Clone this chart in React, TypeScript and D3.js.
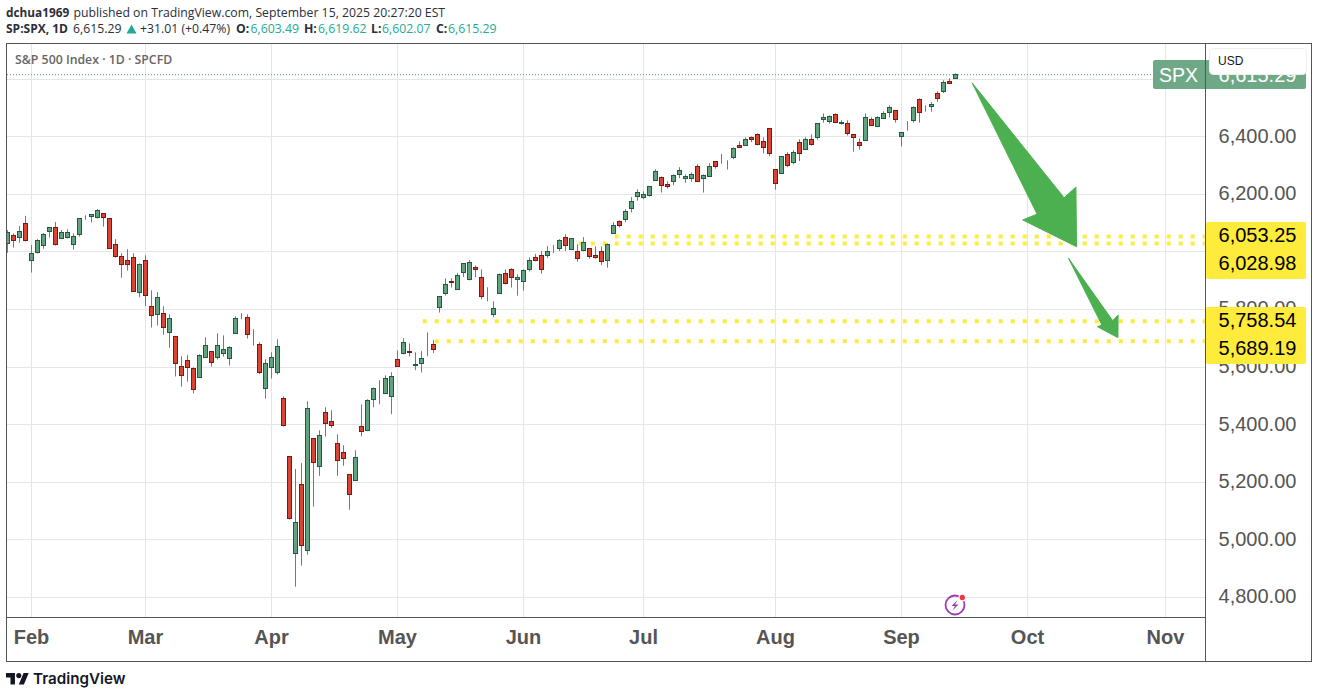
import * as d3 from "d3";

const width = 1318;
const height = 698;

// daily candles, Jan 28 to Sep 15 2025
const opens = [
  6028, 6058, 6051, 6098, 5971, 5999, 6023, 6072, 6086, 6047,
  6051, 6026, 6061, 6117, 6124, 6120, 6134, 6117, 6026, 5985,
  5971, 5981, 5859, 5971, 5811, 5783, 5787, 5721, 5707, 5602,
  5623, 5596, 5564, 5634, 5655, 5634, 5648, 5630, 5717, 5775,
  5773, 5697, 5679, 5526, 5599, 5582, 5491, 5290, 4951, 5192,
  4962, 5352, 5254, 5443, 5411, 5335, 5304, 5227, 5206, 5394,
  5380, 5488, 5530, 5509, 5498, 5627, 5648, 5655, 5605, 5613,
  5663, 5679, 5806, 5856, 5897, 5870, 5929, 5905, 5946, 5912,
  5841, 5783, 5856, 5925, 5939, 5905, 5898, 5939, 5981, 5988,
  5988, 6004, 6012, 6051, 6009, 6002, 6005, 6012, 5988, 6002,
  5971, 6064, 6106, 6113, 6151, 6193, 6188, 6195, 6249, 6259,
  6235, 6245, 6268, 6255, 6255, 6297, 6255, 6262, 6315, 6306,
  6309, 6329, 6370, 6370, 6398, 6408, 6384, 6429, 6287, 6273,
  6339, 6311, 6381, 6356, 6391, 6397, 6461, 6452, 6478, 6447,
  6447, 6408, 6381, 6388, 6460, 6435, 6463, 6485, 6492, 6401,
  6449, 6456, 6530, 6499, 6506, 6551, 6558, 6592, 6603,
];
const highs = [
  6076, 6064, 6090, 6125, 6024, 6044, 6065, 6086, 6104, 6076,
  6078, 6064, 6117, 6127, 6130, 6149, 6134, 6117, 6044, 5995,
  6009, 5995, 5960, 5988, 5866, 5860, 5811, 5783, 5707, 5637,
  5641, 5599, 5644, 5703, 5655, 5717, 5710, 5672, 5776, 5787,
  5783, 5731, 5686, 5627, 5651, 5696, 5498, 5290, 5246, 5266,
  5481, 5352, 5380, 5460, 5450, 5366, 5328, 5227, 5311, 5470,
  5488, 5529, 5554, 5571, 5582, 5658, 5700, 5682, 5651, 5655,
  5720, 5693, 5846, 5908, 5908, 5927, 5960, 5972, 5953, 5939,
  5877, 5828, 5925, 5939, 5943, 5922, 5939, 5981, 5993, 6003,
  6020, 6024, 6044, 6061, 6047, 6026, 6051, 6012, 6019, 6019,
  6029, 6103, 6110, 6148, 6190, 6217, 6210, 6228, 6287, 6262,
  6245, 6269, 6294, 6269, 6276, 6304, 6269, 6308, 6315, 6340,
  6318, 6363, 6384, 6398, 6401, 6412, 6398, 6429, 6287, 6332,
  6346, 6353, 6391, 6398, 6408, 6447, 6481, 6474, 6481, 6457,
  6457, 6408, 6394, 6481, 6467, 6471, 6488, 6509, 6492, 6415,
  6454, 6506, 6533, 6509, 6520, 6558, 6596, 6603, 6620,
];
const lows = [
  5997, 6015, 6032, 6036, 5928, 5994, 6011, 6050, 6022, 6044,
  6046, 6008, 6053, 6112, 6102, 6116, 6088, 6013, 5980, 5910,
  5935, 5863, 5842, 5812, 5737, 5744, 5712, 5667, 5567, 5532,
  5549, 5508, 5564, 5634, 5601, 5626, 5636, 5605, 5717, 5766,
  5699, 5674, 5575, 5490, 5560, 5574, 5393, 5070, 4837, 4910,
  4948, 5115, 5222, 5358, 5389, 5222, 5257, 5104, 5206, 5359,
  5377, 5460, 5470, 5509, 5436, 5602, 5644, 5637, 5589, 5581,
  5637, 5648, 5789, 5848, 5876, 5870, 5912, 5901, 5912, 5835,
  5828, 5773, 5856, 5887, 5876, 5848, 5865, 5932, 5967, 5924,
  5979, 5996, 6003, 6003, 6009, 5966, 6002, 5976, 5976, 5954,
  5945, 6064, 6085, 6103, 6137, 6178, 6183, 6192, 6249, 6206,
  6220, 6231, 6256, 6240, 6243, 6245, 6206, 6262, 6289, 6306,
  6286, 6322, 6363, 6370, 6381, 6370, 6342, 6332, 6216, 6273,
  6294, 6304, 6315, 6356, 6369, 6390, 6449, 6445, 6450, 6442,
  6404, 6348, 6355, 6388, 6440, 6433, 6463, 6467, 6449, 6366,
  6421, 6449, 6449, 6487, 6487, 6521, 6551, 6586, 6602,
];
const closes = [
  6068, 6040, 6072, 6039, 5995, 6040, 6061, 6086, 6026, 6068,
  6068, 6054, 6117, 6115, 6130, 6144, 6120, 6013, 5985, 5957,
  5957, 5863, 5957, 5849, 5780, 5842, 5738, 5769, 5613, 5571,
  5599, 5523, 5641, 5675, 5616, 5675, 5661, 5668, 5769, 5777,
  5714, 5694, 5582, 5613, 5634, 5672, 5396, 5073, 5060, 4979,
  5457, 5269, 5363, 5403, 5397, 5276, 5283, 5157, 5286, 5376,
  5484, 5526, 5528, 5561, 5568, 5602, 5686, 5651, 5607, 5630,
  5665, 5661, 5846, 5887, 5892, 5919, 5960, 5964, 5939, 5846,
  5843, 5804, 5922, 5891, 5912, 5912, 5936, 5971, 5971, 5939,
  6002, 6006, 6040, 6023, 6047, 5978, 6033, 5985, 5981, 5967,
  6026, 6092, 6092, 6141, 6176, 6207, 6200, 6228, 6280, 6231,
  6228, 6266, 6283, 6262, 6269, 6245, 6266, 6297, 6297, 6308,
  6311, 6360, 6363, 6391, 6391, 6374, 6363, 6342, 6238, 6332,
  6301, 6346, 6342, 6391, 6372, 6447, 6465, 6471, 6450, 6451,
  6411, 6398, 6369, 6467, 6440, 6467, 6481, 6502, 6460, 6415,
  6451, 6502, 6485, 6497, 6513, 6533, 6588, 6586, 6615,
];

const lastClose = 6615.29;
const priceTicks = [4800, 5000, 5200, 5400, 5600, 5800, 6000, 6200, 6400, 6600];
const hiddenPriceTicks = [6000, 6600];
const monthLabels = ["Feb", "Mar", "Apr", "May", "Jun", "Jul", "Aug", "Sep", "Oct", "Nov"];
const monthBars = [4, 23, 44, 65, 86, 106, 128, 149, 170, 193];

// horizontal levels: price and the bar they start from
const levelPrices = [6053.25, 6028.98, 5758.54, 5689.19];
const levelStartBars = [101.2, 95.2, 69.2, 71.2];

// arrows as [bar, price] vertices
const bigArrow: [number, number][] = [
  [160.77, 6587], [176.1, 6188], [178.07, 6225], [178.17, 6018], [169.2, 6111], [171.6, 6131],
];
const smallArrow: [number, number][] = [
  [176.83, 5978], [184.2, 5761], [185.1, 5781], [185.07, 5702], [181.67, 5740], [182.4, 5746],
];

const sans = "'Liberation Sans', Arial, sans-serif";
const headerFont = "'Open Sans', sans-serif";
const teal = "#22ab94";

const x = d3.scaleLinear().domain([0, 158]).range([7.5, 955.5]);
const y = d3.scaleLinear().domain([4800, 6400]).range([597.3, 136.7]);

const crisp = (v: number) => Math.round(v - 0.5) + 0.5;
const arrowLine = d3
  .line<[number, number]>()
  .x((d) => x(d[0]))
  .y((d) => y(d[1]));

function Candles() {
  return (
    <g clipPath="url(#plot)">
      {opens.map((open, i) => {
        const close = closes[i];
        const up = close >= open;
        const cx = x(i);
        const top = crisp(y(Math.max(open, close)));
        const bottom = crisp(y(Math.min(open, close)));
        return (
          <g key={i}>
            <line x1={cx} x2={cx} y1={y(highs[i])} y2={y(lows[i])} stroke="#787878" />
            <rect
              x={cx - 2}
              y={top}
              width={4}
              height={bottom - top}
              fill={up ? "#60a37e" : "#d94535"}
              stroke={up ? "#1e5b40" : "#741b14"}
            />
          </g>
        );
      })}
    </g>
  );
}

function PriceAxis() {
  const labelX = 1257.5;
  const yellowLabelCenters = [235, 262.5, 320, 347.5];
  return (
    <g fontFamily={sans} fontSize={20}>
      {priceTicks
        .filter((t) => !hiddenPriceTicks.includes(t))
        .map((t) => (
          <text key={t} x={labelX} y={y(t) - 1.2} dy="0.36em" textAnchor="middle" fill="#555">
            {d3.format(",.2f")(t)}
          </text>
        ))}
      <rect x={1153} y={60} width={153} height={29} rx={2} fill="#6fa886" />
      <text x={1159} y={81.5} fontSize={19.5} fill="#fff">SPX</text>
      <text x={labelX} y={y(lastClose)} dy="0.36em" textAnchor="middle" fill="#fff">
        {d3.format(",.2f")(lastClose)}
      </text>
      <rect x={1206} y={222} width={100} height={57} rx={2} fill="#ffeb3b" />
      <rect x={1206} y={307} width={100} height={57} rx={2} fill="#ffeb3b" />
      {levelPrices.map((p, i) => (
        <text key={p} x={labelX} y={yellowLabelCenters[i]} dy="0.36em" textAnchor="middle" fill="#000">
          {d3.format(",.2f")(p)}
        </text>
      ))}
      <rect x={1209.5} y={48.5} width={97} height={26} rx={4} fill="#fff" stroke="#efefef" />
      <text x={1218} y={65} fontSize={12} fill="#131722">USD</text>
    </g>
  );
}

function Header() {
  return (
    <g fontFamily={headerFont} fontSize={12.25} fill="#2a2e39">
      <text y={17}>
        <tspan x={6} fontWeight={700} fontSize={11.8}>dchua1969</tspan>
        <tspan x={73.5}>published on TradingView.com, September 15, 2025 20:27:20 EST</tspan>
      </text>
      <text y={33}>
        <tspan x={6} fontWeight={700} fontSize={12}>SP:SPX, 1D</tspan>
        <tspan x={73}>6,615.29</tspan>
        <tspan x={140}>+31.01 (+0.47%)</tspan>
        <tspan x={236} fontWeight={700}>O:</tspan>
        <tspan x={250.5} fill={teal}>6,603.49</tspan>
        <tspan x={304} fontWeight={700}>H:</tspan>
        <tspan x={318} fill={teal}>6,619.62</tspan>
        <tspan x={371} fontWeight={700}>L:</tspan>
        <tspan x={382} fill={teal}>6,602.07</tspan>
        <tspan x={436} fontWeight={700}>C:</tspan>
        <tspan x={448} fill={teal}>6,615.29</tspan>
      </text>
      <path d="M126.5 33.5 L131.5 24.5 L136.5 33.5 Z" fill={teal} />
    </g>
  );
}

function Badge() {
  return (
    <g>
      <circle cx={955} cy={605} r={9.5} fill="none" stroke="#9c3db5" strokeWidth={1.8} />
      <path d="M957.5 600 L951.5 606 L955 606 L952.5 610.5 L958.5 604.5 L955 604.5 Z" fill="#9c3db5" />
      <circle cx={962.3} cy={597.5} r={4} fill="#fff" />
      <circle cx={962.3} cy={597.5} r={2.7} fill="#f23645" />
    </g>
  );
}

export default function App() {
  return (
    <svg
      width={width}
      height={height}
      viewBox={`0 0 ${width} ${height}`}
      style={{ position: "fixed", left: 0, top: 0, display: "block", background: "#fff" }}
    >
      <defs>
        <clipPath id="plot">
          <rect x={7} y={44} width={1198} height={573} />
        </clipPath>
      </defs>

      <g stroke="#e6e6e6">
        {priceTicks.map((t) => (
          <line key={t} x1={7} x2={1205} y1={crisp(y(t))} y2={crisp(y(t))} />
        ))}
        {monthBars.map((b) => (
          <line key={b} x1={x(b)} x2={x(b)} y1={44} y2={617} />
        ))}
      </g>

      <line x1={7} x2={1153} y1={y(lastClose)} y2={y(lastClose)} stroke="#4f9a78" strokeDasharray="1 2" />

      <g stroke="#ffeb3b" strokeWidth={4}>
        {levelPrices.map((p, i) => (
          <line key={p} x1={x(levelStartBars[i])} x2={1205} y1={y(p)} y2={y(p)} strokeDasharray="4 8" />
        ))}
      </g>

      <Candles />

      <path d={(arrowLine(bigArrow) ?? "") + "Z"} fill="#4caf50" stroke="#4caf50" strokeWidth={1} strokeLinejoin="round" />
      <path d={(arrowLine(smallArrow) ?? "") + "Z"} fill="#4caf50" stroke="#4caf50" strokeWidth={1} strokeLinejoin="round" />

      <text x={15} y={64} fontFamily={headerFont} fontSize={12.3} fontWeight={600} fill="#666">
        S&amp;P 500 Index · 1D · SPCFD
      </text>

      <PriceAxis />

      <g fontFamily={sans} fontSize={20} fontWeight={700} fill="#555" textAnchor="middle">
        {monthLabels.map((m, i) => (
          <text key={m} x={x(monthBars[i])} y={644}>{m}</text>
        ))}
      </g>

      <rect x={6.5} y={43.5} width={1305} height={618} fill="none" stroke="#555" />
      <line x1={1205.5} x2={1205.5} y1={43.5} y2={661.5} stroke="#555" />
      <line x1={6.5} x2={1205.5} y1={617.5} y2={617.5} stroke="#555" />

      <Badge />
      <Header />

      <g transform="translate(6 670.5) scale(0.64)" fill="#131722">
        <path d="M14 22H7V11H0V4h14v18zM28 22h-8l7.5-18h8L28 22z" />
        <circle cx={20} cy={8} r={4} />
      </g>
      <text x={33} y={684} fontFamily="Inter, sans-serif" fontSize={15.2} fontWeight={600} fill="#131722">
        TradingView
      </text>
    </svg>
  );
}
